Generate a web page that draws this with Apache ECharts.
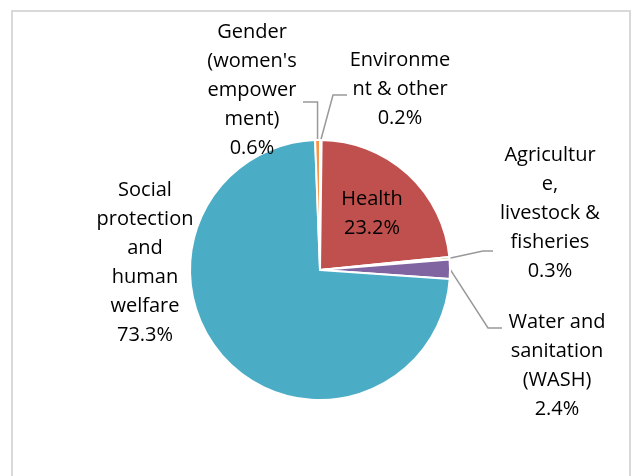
<!DOCTYPE html>
<html><head><meta charset="utf-8">
<script src="https://cdn.jsdelivr.net/npm/echarts@6/dist/echarts.min.js"></script>
<style>html,body{margin:0;padding:0;background:#fff}#chart{width:632px;height:476px}</style>
</head><body><div id="chart"></div>
<script>
// Data (clockwise from 12 o'clock)
const categories = [
  'Environme\nnt & other',
  'Health',
  'Agricultur\ne,\nlivestock &\nfisheries',
  'Water and\nsanitation\n(WASH)',
  'Social\nprotection\nand\nhuman\nwelfare',
  'Gender\n(women\'s\nempower\nment)'
];
const shares = [0.2, 23.2, 0.3, 2.4, 73.3, 0.6];

// Styles / layout (kept separate from data)
const colors = ['#4F81BD', '#C0504D', '#9BBB59', '#8064A2', '#4BACC6', '#F79646'];
const labelPlacement = [
  { x: 400, y: 45.5, line: [[333, 95], [347, 95]] },
  { x: 372, y: 184.5, line: null },
  { x: 550, y: 140.5, line: [[483, 251], [493, 251]] },
  { x: 557, y: 307.5, line: [[488, 328], [502, 328]] },
  { x: 145, y: 175.5, line: null },
  { x: 252, y: 17.5, line: [['start', 102], [303, 102]] }
];

const chart = echarts.init(document.getElementById('chart'), null, { renderer: 'canvas' });

const seriesData = categories.map((name, i) => ({
  name: name,
  value: shares[i],
  itemStyle: { color: colors[i] },
  labelLine: { show: labelPlacement[i].line !== null }
}));

chart.setOption({
  animation: false,
  backgroundColor: '#fff',
  graphic: [{
    type: 'rect',
    shape: { x: 12, y: 11, width: 618, height: 490 },
    style: { fill: 'none', stroke: '#d9d9d9', lineWidth: 2 },
    silent: true, z: -1
  }],
  series: [{
    type: 'pie',
    center: [320, 270],
    radius: 130,
    startAngle: 90,
    clockwise: true,
    avoidLabelOverlap: false,
    emphasis: { disabled: true },
    itemStyle: { borderColor: '#fff', borderWidth: 2 },
    label: {
      show: true,
      position: 'outside',
      formatter: p => p.name + '\n' + p.value.toFixed(1) + '%',
      fontFamily: 'Open Sans',
      fontSize: 20,
      lineHeight: 29,
      color: '#000',
      align: 'center'
    },
    labelLine: {
      show: true,
      length: 20,
      length2: 10,
      smooth: false,
      lineStyle: { color: '#999999', width: 1.5 }
    },
    labelLayout: function (params) {
      const pl = labelPlacement[params.dataIndex];
      const out = { x: pl.x, y: pl.y, align: 'center', verticalAlign: 'top' };
      if (pl.line && params.labelLinePoints) {
        const start = params.labelLinePoints[0];
        const pts = [[start[0], start[1]]];
        pl.line.forEach(pt => {
          pts.push([pt[0] === 'start' ? start[0] : pt[0], pt[1]]);
        });
        out.labelLinePoints = pts;
      }
      return out;
    },
    data: seriesData
  }]
});
</script>
</body></html>
